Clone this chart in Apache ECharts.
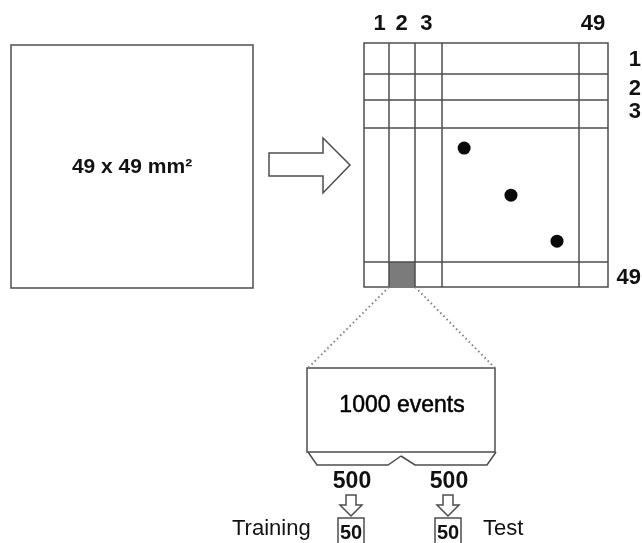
<!DOCTYPE html>
<html>
<head>
<meta charset="utf-8">
<title>49 x 49 matrix</title>
<script src="https://cdn.jsdelivr.net/npm/echarts@6.0.0/dist/echarts.min.js"></script>
<style>
	html, body { margin:0; padding:0; background:#fff; }
	#chart { width:642px; height:543px; }
</style>
</head>
<body>
<div id="chart"></div>
<script>
// matrix labels (shown columns / rows)
var colLabels = ['1', '2', '3', '49'];
var rowLabels = ['1', '2', '3', '49'];
// label positions in cell units
var colTicks = [0.6, 1.45, 2.4, 8.8];
var rowTicks = [0.65, 1.75, 2.65, 9.05];
// cell boundaries in cell units (columns 4..48 / rows 4..48 collapsed)
var colBounds = [0.96, 1.96, 3.0, 8.27];
var rowBounds = [1.19, 2.19, 3.27, 8.42];
var matrixMax = 9.38;
// hit points on the diagonal
var hits = [[3.85, 4.04], [5.65, 5.85], [7.42, 7.62]];
// selected cell: column '2', row '49'
var selectedCell = [colBounds[0], colBounds[1], rowBounds[3], matrixMax];
// numbers
var sampleSize = 49;
var totalEvents = 1000;
var splitEvents = [500, 500];
var pickedEvents = [50, 50];
var setNames = ['Training', 'Test'];

var FONT = 'Liberation Sans, Arial, Helvetica, sans-serif';
var LINE = '#4d4d4d';
var TXT = '#111';

var matrix_chart = {
	init : function(){
		var myChart = echarts.init(document.getElementById('chart'));
		myChart.setOption(matrix_chart.build_option());
		matrix_chart.add_zoom_lines(myChart);
	},

	/**
	 * 图表参数
	 */
	build_option : function(){
		var gridLines = colBounds.map(function(v){ return {xAxis: v}; })
			.concat(rowBounds.map(function(v){ return {yAxis: v}; }));
		return {
			animation : false,
			backgroundColor : '#fff',
			grid : {
				left : 364, top : 43, width : 244, height : 244,
				outerBoundsMode : 'none',
				containLabel : false,
				show : true,
				backgroundColor : '#fff',
				borderColor : LINE,
				borderWidth : 1.5
			},
			xAxis : {
				type : 'value',
				position : 'top',
				min : 0, max : matrixMax,
				axisLine : {show:false},
				axisTick : {show:false},
				splitLine : {show:false},
				axisLabel : {
					customValues : colTicks,
					formatter : function(v){ return colLabels[colTicks.indexOf(v)]; },
					color : TXT,
					fontSize : 22,
					fontWeight : 'bold',
					fontFamily : FONT,
					margin : 8
				}
			},
			yAxis : {
				type : 'value',
				position : 'right',
				inverse : true,
				min : 0, max : matrixMax,
				axisLine : {show:false},
				axisTick : {show:false},
				splitLine : {show:false},
				axisLabel : {
					customValues : rowTicks,
					formatter : function(v){ return rowLabels[rowTicks.indexOf(v)]; },
					color : TXT,
					fontSize : 22,
					fontWeight : 'bold',
					fontFamily : FONT,
					align : 'right',
					margin : 33
				}
			},
			series : [
				{
					type : 'custom',
					silent : true,
					renderItem : function(params, api){
						var p0 = api.coord([api.value(0), api.value(2)]);
						var p1 = api.coord([api.value(1), api.value(3)]);
						return {
							type : 'rect',
							shape : {x:p0[0], y:p0[1], width:p1[0]-p0[0], height:p1[1]-p0[1]},
							style : {fill:'#7b7b7b'}
						};
					},
					data : [selectedCell]
				},
				{
					type : 'scatter',
					symbolSize : 13,
					itemStyle : {color:'#0a0a0a', opacity:1},
					data : hits,
					z : 5,
					markLine : {
						silent : true,
						symbol : ['none', 'none'],
						label : {show:false},
						lineStyle : {type:'solid', color:LINE, width:1.5, opacity:1},
						data : gridLines
					}
				}
			],
			graphic : matrix_chart.build_graphics()
		};
	},

	/**
	 * 其它示意图形
	 */
	build_graphics : function(){
		var st = {stroke:LINE, lineWidth:1.5, fill:'#fff'};
		var g = [
			{type:'rect', shape:{x:11, y:45, width:242, height:243}, style:st},
			{type:'text', x:132, y:167, style:{text:sampleSize + ' x ' + sampleSize + ' mm\u00b2', font:'bold 21px ' + FONT, fill:TXT, textAlign:'center', textVerticalAlign:'middle'}},
			{type:'polygon', shape:{points:[[269,153],[323,153],[323,138],[350,165],[323,193],[323,176],[269,176]]}, style:st},
			{type:'rect', shape:{x:307, y:368, width:188, height:84}, style:st},
			{type:'text', x:402, y:406, style:{text:totalEvents + ' events', font:'23px ' + FONT, fill:'#000', stroke:'#000', lineWidth:0.5, textAlign:'center', textVerticalAlign:'middle'}},
			{type:'polyline', shape:{points:[[308,452],[317,465],[388,465],[401,456]]}, style:{stroke:LINE, lineWidth:1.5, fill:null}},
			{type:'polyline', shape:{points:[[401,456],[415,465],[487,465],[496,452]]}, style:{stroke:LINE, lineWidth:1.5, fill:null}}
		];
		var cx = [351, 448];
		for (var i = 0; i < 2; i++) {
			var c = cx[i];
			g.push({type:'text', x:c + 1, y:482, style:{text:String(splitEvents[i]), font:'bold 23px ' + FONT, fill:TXT, textAlign:'center', textVerticalAlign:'middle'}});
			g.push({type:'polygon', shape:{points:[[c-5,495],[c+5,495],[c+5,505],[c+11,505],[c,516],[c-11,505],[c-5,505]]}, style:st});
			g.push({type:'rect', shape:{x:c-13, y:518, width:26, height:32}, style:st});
			g.push({type:'text', x:c, y:533, style:{text:String(pickedEvents[i]), font:'bold 20px ' + FONT, fill:TXT, textAlign:'center', textVerticalAlign:'middle'}});
		}
		g.push({type:'text', x:232, y:529, style:{text:setNames[0], font:'22px ' + FONT, fill:TXT, textAlign:'left', textVerticalAlign:'middle'}});
		g.push({type:'text', x:483, y:529, style:{text:setNames[1], font:'22px ' + FONT, fill:TXT, textAlign:'left', textVerticalAlign:'middle'}});
		return g;
	},

	/**
	 * 选中单元到事件框的虚线
	 */
	add_zoom_lines : function(chart){
		var a = chart.convertToPixel({gridIndex:0}, [selectedCell[0], selectedCell[3]]);
		var b = chart.convertToPixel({gridIndex:0}, [selectedCell[1], selectedCell[3]]);
		var dot = {stroke:'#808080', lineWidth:2, lineDash:[1.5, 3]};
		var g = matrix_chart.build_graphics();
		g.push({type:'line', shape:{x1:a[0], y1:a[1], x2:308, y2:368}, style:dot});
		g.push({type:'line', shape:{x1:b[0], y1:b[1], x2:495, y2:368}, style:dot});
		chart.setOption({graphic:g}, {replaceMerge:['graphic']});
	}
};

matrix_chart.init();
</script>
</body>
</html>
